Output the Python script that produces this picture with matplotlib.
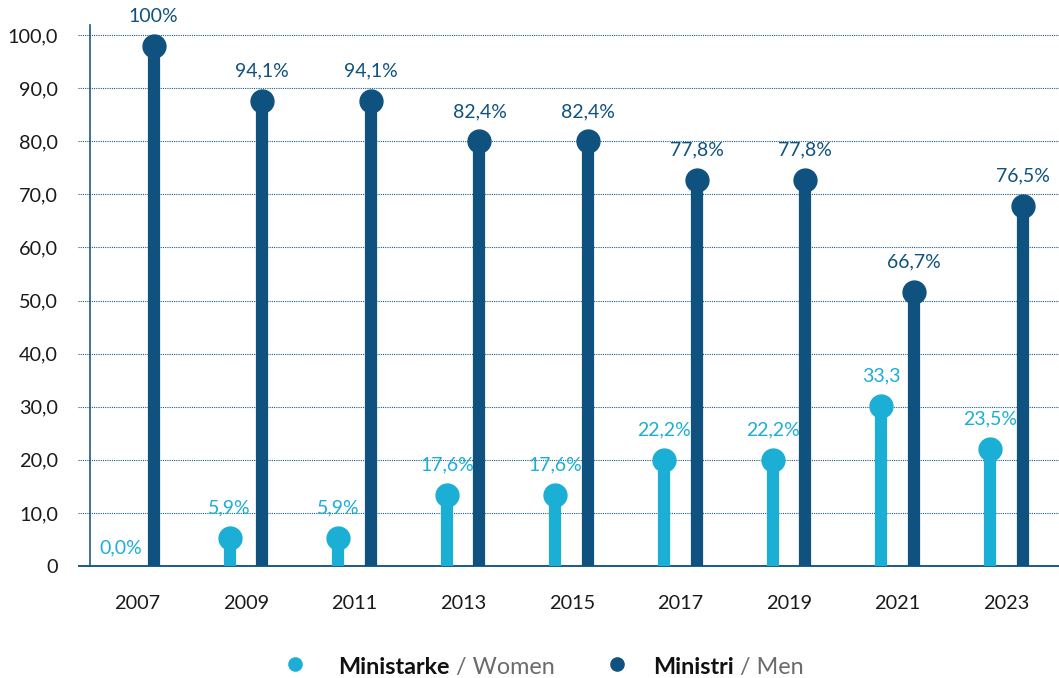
import matplotlib
matplotlib.use("Agg")
import matplotlib.pyplot as plt
from matplotlib.lines import Line2D
import numpy as np

plt.rcParams["font.family"] = ["Lato", "DejaVu Sans"]

# data (marker heights as drawn in the reference, labels as printed)
years = ["2007", "2009", "2011", "2013", "2015", "2017", "2019", "2021", "2023"]
women_values = [0.0, 5.3, 5.3, 13.4, 13.4, 20.0, 20.0, 30.1, 22.0]
men_values = [97.9, 87.6, 87.6, 80.0, 80.0, 72.7, 72.7, 51.6, 67.8]
women_labels = ["0,0%", "5,9%", "5,9%", "17,6%", "17,6%", "22,2%", "22,2%", "33,3", "23,5%"]
men_labels = ["100%", "94,1%", "94,1%", "82,4%", "82,4%", "77,8%", "77,8%", "66,7%", "76,5%"]
y_ticks = [0, 10, 20, 30, 40, 50, 60, 70, 80, 90, 100]
y_ticklabels = ["0", "10,0", "20,0", "30,0", "40,0", "50,0", "60,0", "70,0", "80,0", "90,0", "100,0"]

WOMEN = "#1cafd5"
MEN = "#10527f"
AXIS = "#1b5a86"

fig = plt.figure(figsize=(10.59, 6.78), dpi=100)
ax = fig.add_axes([90 / 1059, 112 / 678, 969 / 1059, 541 / 678])

x = np.arange(len(years))
off = 0.15

for xs, vals, labels, color in [(x - off, women_values, women_labels, WOMEN),
                                (x + off, men_values, men_labels, MEN)]:
    for xi, v, lab in zip(xs, vals, labels):
        if v > 0:
            ax.plot([xi, xi], [0, v], color=color, lw=8.8, solid_capstyle="round", zorder=3)
            ax.plot(xi, v, "o", color=color, ms=16.5, mec=color, zorder=4)
            dy = 21.5
        else:
            dy = 13
        ax.annotate(lab, (xi, v), xytext=(0, dy), textcoords="offset points",
                    ha="center", va="center", fontsize=14, color=color)

ax.set_xlim(-0.436, 8.486)
ax.set_ylim(0, 101.9)

# dotted gridlines reaching a little left of the axis
ax.hlines(y_ticks[1:], -0.0124, 1, transform=ax.get_yaxis_transform(), colors=AXIS,
          linestyles=(0, (1, 1)), lw=0.8, clip_on=False, zorder=1)
ax.hlines([0], -0.0124, 1, transform=ax.get_yaxis_transform(), colors=AXIS,
          lw=1.4, clip_on=False, zorder=2)

for s in ["top", "right", "bottom"]:
    ax.spines[s].set_visible(False)
ax.spines["left"].set_color(AXIS)
ax.spines["left"].set_linewidth(1.2)

ax.set_xticks(x)
ax.set_xticklabels(years)
ax.set_yticks(y_ticks)
ax.set_yticklabels(y_ticklabels)
ax.tick_params(axis="x", length=0, pad=21, labelsize=14.3, labelcolor="#1a1a1a")
ax.tick_params(axis="y", length=0, pad=23, labelsize=14.3, labelcolor="#1a1a1a")

# legend built by hand
for px, color in [(295, WOMEN), (617, MEN)]:
    fig.add_artist(Line2D([px / 1059], [1 - 664 / 678], marker="o", ms=9.5, color=color,
                          transform=fig.transFigure))

for px, bold, rest in [(338, "Ministarke", " / Women"), (653, "Ministri", " / Men")]:
    t = fig.text(px / 1059, 1 - 674 / 678, bold, fontsize=16.8, fontweight="bold",
                 color="#111111", ha="left", va="baseline")
    ax.annotate(rest, xy=(1, 0), xycoords=t, xytext=(0, 0), textcoords="offset points",
                fontsize=16.8, color="#6b6b6b", ha="left", va="bottom")

fig.savefig("out.png", dpi=100)
